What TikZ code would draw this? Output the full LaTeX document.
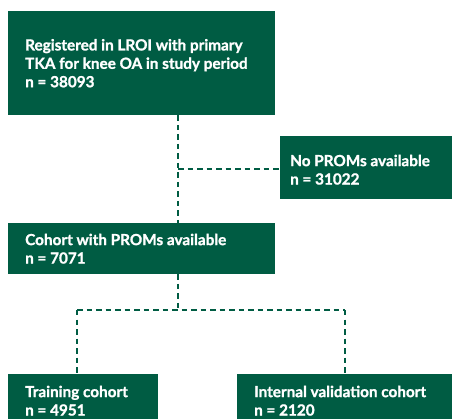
\documentclass[tikz,border=0pt]{standalone}
\usepackage{fontspec}
\setmainfont{Lato}[BoldFeatures={FakeBold=1.2}]
\usepackage{tikz}
\usetikzlibrary{positioning, calc}
\definecolor{flowgreen}{RGB}{0,92,67}

\begin{document}
\begin{tikzpicture}[
          x=1pt, y=-1pt,
          box/.style={fill=flowgreen, anchor=north west, inner sep=0pt},
          boxtext/.style={text=white, anchor=west, align=left, inner sep=0pt,
            font=\bfseries\fontsize{15.3}{18.4}\selectfont},
          link/.style={draw=flowgreen, line width=1.2pt, dash pattern=on 5.5pt off 4pt}
        ]
        \useasboundingbox (0,0) rectangle (452,419);
        \clip (0,0) rectangle (452,419);
        \node [box, minimum width=267pt, minimum height=104pt] (reg) at (8,11) {};
        \node [box, minimum width=180pt, minimum height=63pt] (noprom) at (280,136) {};
        \node [box, minimum width=267pt, minimum height=51pt] (prom) at (8,223) {};
        \node [box, minimum width=150pt, minimum height=53pt] (train) at (8,374) {};
        \node [box, minimum width=220pt, minimum height=53pt] (valid) at (237,374) {};
        \node [boxtext, right=17pt of reg.west, anchor=west] (regtext)
          {Registered in LROI with primary\\TKA for knee OA in study period\\n = 38093};
        \node [boxtext, right=10pt of noprom.west, anchor=west, yshift=-2pt] (nopromtext)
          {No PROMs available\\n = 31022};
        \node [boxtext, right=17pt of prom.west, anchor=west] (promtext)
          {Cohort with PROMs available\\n = 7071};
        \node [boxtext, right=17pt of train.west, anchor=west] (traintext)
          {Training cohort\\n = 4951};
        \node [boxtext, right=17pt of valid.west, anchor=west] (validtext)
          {Internal validation cohort\\n = 2120};
        \coordinate (trunk) at (178,169);
        \coordinate (fork) at (178,310);
        \coordinate (forkl) at (77,310);
        \coordinate (forkr) at (345,310);
        \draw [link] (reg.south -| trunk) -- (prom.north -| trunk);
        \draw [link] (trunk) -- (noprom.west |- trunk);
        \draw [link] (prom.south -| fork) -- (fork);
        \draw [link] (forkl) -- (forkr);
        \draw [link] (forkl) -- (train.north -| forkl);
        \draw [link] (forkr) -- (valid.north -| forkr);
        \end{tikzpicture}
\end{document}
